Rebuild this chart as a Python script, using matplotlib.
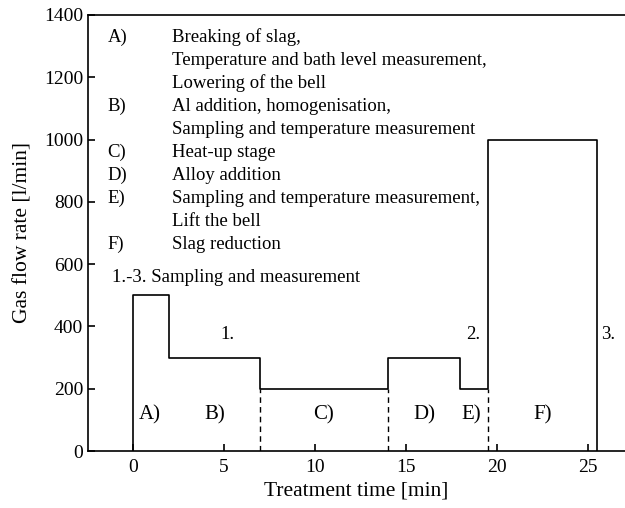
import numpy as np
import matplotlib.pyplot as plt

plt.rcParams['font.family'] = ['Liberation Serif', 'DejaVu Serif']

# flow profile: step edges and gas flow rate within each step
edges = [0, 2, 7, 14, 18, 19.5, 25.5]
flow = [500, 300, 200, 300, 200, 1000]
phase_bounds = [7, 14, 19.5]

phase_labels = ['A)', 'B)', 'C)', 'D)', 'E)', 'F)']
phase_x = [0.9, 4.5, 10.5, 16.0, 18.6, 22.5]
sample_labels = ['1.', '2.', '3.']
sample_x = [5.2, 18.7, 26.1]

legend_keys = ['A)', '', '', 'B)', '', 'C)', 'D)', 'E)', '', 'F)']
legend_text = ['Breaking of slag,',
               'Temperature and bath level measurement,',
               'Lowering of the bell',
               'Al addition, homogenisation,',
               'Sampling and temperature measurement',
               'Heat-up stage',
               'Alloy addition',
               'Sampling and temperature measurement,',
               'Lift the bell',
               'Slag reduction']

fig = plt.figure(figsize=(6.25, 5.08), dpi=100)
ax = fig.add_axes([0.1408, 0.1122, 0.8592, 0.8583])

xs = [edges[0]]
ys = [0]
for i, v in enumerate(flow):
    xs += [edges[i], edges[i + 1]]
    ys += [v, v]
xs.append(edges[-1])
ys.append(0)
ax.plot(xs, ys, color='black', lw=1.2)

for b in phase_bounds:
    lvl = min(flow[edges.index(b) - 1], flow[edges.index(b)])
    ax.plot([b, b], [0, lvl], color='black', lw=1.0, ls=(0, (4, 3)))

for lab, x in zip(phase_labels, phase_x):
    ax.text(x, 116, lab, ha='center', va='center', fontsize=15)
for lab, x in zip(sample_labels, sample_x):
    ax.text(x, 374, lab, ha='center', va='center', fontsize=13.5)

y0 = 1328
dy = 74
for i, (k, t) in enumerate(zip(legend_keys, legend_text)):
    y = y0 - i * dy
    ax.text(-1.4, y, k, ha='left', va='center', fontsize=13.5)
    ax.text(2.15, y, t, ha='left', va='center', fontsize=13.5)
ax.text(-1.15, 558, '1.-3. Sampling and measurement', ha='left', va='center', fontsize=13.5)

ax.set_xlim(-2.47, 27.05)
ax.set_ylim(0, 1400)
ax.set_xticks([0, 5, 10, 15, 20, 25])
ax.set_yticks(np.arange(0, 1401, 200))
ax.tick_params(direction='in', length=5, width=1.2, labelsize=14, top=False, right=False)
ax.tick_params(axis='x', pad=6)
for s in ['left', 'bottom', 'top']:
    ax.spines[s].set_linewidth(1.2)
ax.spines['right'].set_visible(False)
ax.set_xlabel('Treatment time [min]', fontsize=15.5, labelpad=4)
ax.set_ylabel('Gas flow rate [l/min]', fontsize=15.5, labelpad=8)

fig.savefig('out.png', dpi=100)
